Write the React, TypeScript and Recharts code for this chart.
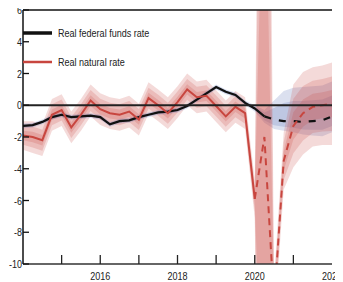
import { memo } from "react"
import {
  ComposedChart,
  Line,
  Area,
  XAxis,
  YAxis,
  ReferenceLine,
  Legend,
} from "recharts"

const FONT = "'Liberation Sans', Arial, sans-serif"
const NARROW = 0.82

const quarters = [
  "2014Q1", "2014Q2", "2014Q3", "2014Q4",
  "2015Q1", "2015Q2", "2015Q3", "2015Q4",
  "2016Q1", "2016Q2", "2016Q3", "2016Q4",
  "2017Q1", "2017Q2", "2017Q3", "2017Q4",
  "2018Q1", "2018Q2", "2018Q3", "2018Q4",
  "2019Q1", "2019Q2", "2019Q3", "2019Q4",
  "2020Q1", "2020Q2", "2020Q3", "2020Q4",
  "2021Q1", "2021Q2", "2021Q3", "2021Q4",
  "2022Q1",
]

// real federal funds rate: history to 2020Q2, then projection
const fedFundsActual = [
  -1.3, -1.25, -1.05, -0.75, -0.6, -0.75, -0.7, -0.65, -0.75, -1.2, -1.0, -0.95,
  -0.75, -0.6, -0.45, -0.4, -0.3, -0.05, 0.35, 0.75, 1.15, 0.85, 0.65, 0.15,
  -0.2, -0.7,
]
const fedFundsForecast = [-0.7, -0.9, -1.0, -1.0, -1.05, -1.0, -0.95, -0.7]
// uncertainty below / above the fed funds path
const fedFundsBandLow = [
  0.15, 0.15, 0.15, 0.15, 0.15, 0.15, 0.15, 0.15, 0.15, 0.15, 0.15, 0.15,
  0.15, 0.15, 0.15, 0.15, 0.15, 0.15, 0.15, 0.15, 0.15, 0.15, 0.15, 0.15,
  0.2, 0.4, 0.6, 0.6, 0.7, 0.8, 0.9, 1.0, 1.0,
]
const fedFundsBandHigh = [
  0.15, 0.15, 0.15, 0.15, 0.15, 0.15, 0.15, 0.15, 0.15, 0.15, 0.15, 0.15,
  0.15, 0.15, 0.15, 0.15, 0.15, 0.15, 0.15, 0.15, 0.15, 0.15, 0.15, 0.15,
  0.2, 0.4, 1.2, 1.9, 2.1, 2.2, 2.2, 2.2, 2.2,
]

// real natural rate: history to 2020Q1, then projection
const naturalActual = [
  -1.9, -2.0, -2.2, -0.6, -0.3, -1.4, -0.6, 0.3, -0.25, -0.5, -0.6, -0.4,
  -0.9, 0.45, 0.0, -0.5, 0.2, 1.0, 0.5, 0.6, -0.05, -0.7, -0.1, -0.5,
  -5.9,
]
const naturalForecast = [-5.9, -2.0, -12.5, -3.5, -1.3, -0.5, -0.1, 0.0, 0.1]
const naturalBandActual = [
  0.9, 1.0, 1.0, 1.0, 1.0, 1.0, 1.0, 1.0, 1.0, 1.0, 1.0, 1.0,
  1.0, 1.0, 1.0, 1.0, 1.0, 1.0, 1.0, 1.0, 1.0, 1.0, 1.0, 1.0,
  1.2,
]
const naturalBandForecast = [1.2, 60, 1.6, 1.8, 2.6, 2.6, 2.5, 2.5, 2.6]

const yTicks = [-10, -8, -6, -4, -2, 0, 2, 4, 6]
const yearTicks = [2014, 2015, 2016, 2017, 2018, 2019, 2020, 2021, 2022]
const yearLabels = ["2016", "2018", "2020", "2022"]

const RED = "#c8463f"
const BLUE = "#4d64ad"

const band = (v: number, w: number, f: number) => [v - w * f, v + w * f]

const ffStart = fedFundsActual.length - 1
const natStart = naturalActual.length - 1

const data = quarters.map((q, i) => {
  const row: any = { t: Number(q.slice(0, 4)) + (Number(q.slice(5)) - 1) / 4 }
  const ffv = i <= ffStart ? fedFundsActual[i] : fedFundsForecast[i - ffStart]
  if (i <= ffStart) row.ff = fedFundsActual[i]
  if (i >= ffStart) row.ffProj = fedFundsForecast[i - ffStart]
  row.ffB1 = [ffv - fedFundsBandLow[i], ffv + fedFundsBandHigh[i]]
  row.ffB2 = [ffv - fedFundsBandLow[i] * 0.6, ffv + fedFundsBandHigh[i] * 0.6]
  if (i <= natStart) {
    row.nat = naturalActual[i]
    row.natH1 = band(naturalActual[i], naturalBandActual[i], 1)
    row.natH2 = band(naturalActual[i], naturalBandActual[i], 0.66)
    row.natH3 = band(naturalActual[i], naturalBandActual[i], 0.33)
  }
  if (i >= natStart) {
    const v = naturalForecast[i - natStart]
    const w = naturalBandForecast[i - natStart]
    row.natProj = v
    row.natP1 = band(v, w, 1)
    row.natP2 = band(v, w, 0.66)
    row.natP3 = band(v, w, 0.33)
  }
  return row
})

// narrow text: Liberation Sans squeezed horizontally
function NarrowText({ x, y, anchor, children }: any) {
  return (
    <text
      transform={`translate(${x},${y}) scale(${NARROW},1)`}
      textAnchor={anchor}
      fontSize={11}
      fill="#222"
      fontFamily={FONT}
    >
      {children}
    </text>
  )
}

function YearTick({ x, y, payload }: any) {
  const v = payload.value
  const label = yearLabels.includes(String(v))
  return (
    <g>
      {v > 2014 && v < 2022 && (
        <line x1={x} x2={x} y1={y} y2={y - 9} stroke="#222" strokeWidth={1.3} />
      )}
      {label && (
        <NarrowText x={x} y={y + 16} anchor="middle">
          {v}
        </NarrowText>
      )}
    </g>
  )
}

function LeftTick({ x, y, payload }: any) {
  return (
    <g>
      <line x1={x} x2={x + 6} y1={y} y2={y} stroke="#111" strokeWidth={1.3} />
      <NarrowText x={x - 1} y={y + 4} anchor="end">
        {payload.value}
      </NarrowText>
    </g>
  )
}

function RightTick({ x, y }: any) {
  return <line x1={x - 7} x2={x} y1={y} y2={y} stroke="#222" strokeWidth={1.3} />
}

function LegendBox() {
  const rows = [
    { name: "Real federal funds rate", color: "#111", w: 3.5 },
    { name: "Real natural rate", color: RED, w: 2.5 },
  ]
  return (
    <div style={{ fontFamily: FONT, fontSize: 11, color: "#222" }}>
      {rows.map((r, i) => (
        <div key={r.name} style={{ display: "flex", alignItems: "center", height: 14, marginTop: i ? 15 : 0 }}>
          <svg width={29} height={6}>
            <line x1={0} x2={29} y1={3} y2={3} stroke={r.color} strokeWidth={r.w} />
          </svg>
          <span
            style={{
              marginLeft: 6,
              display: "inline-block",
              whiteSpace: "nowrap",
              transform: `scaleX(${NARROW})`,
              transformOrigin: "left center",
            }}
          >
            {r.name}
          </span>
        </div>
      ))}
    </div>
  )
}

function RateChart() {
  return (
    <div style={{ margin: "-8px 0 0 -8px", width: 343, height: 282, overflow: "visible" }}>
      <ComposedChart
        width={343}
        height={282}
        data={data}
        margin={{ top: 10, right: 11, left: 0, bottom: 0 }}
        style={{ overflow: "visible" }}
      >
        <XAxis
          dataKey="t"
          type="number"
          domain={[2014, 2022]}
          ticks={yearTicks}
          interval={0}
          allowDataOverflow
          height={18}
          tickSize={0}
          tickMargin={0}
          tick={<YearTick />}
          axisLine={{ stroke: "#333", strokeWidth: 1.5 }}
        />
        <YAxis
          yAxisId="l"
          domain={[-10, 6]}
          ticks={yTicks}
          interval={0}
          allowDataOverflow
          width={23}
          tickSize={0}
          tickMargin={0}
          tick={<LeftTick />}
          axisLine={{ stroke: "#111", strokeWidth: 1.5 }}
        />
        <YAxis
          yAxisId="r"
          orientation="right"
          domain={[-10, 6]}
          ticks={yTicks.slice(1, -1)}
          interval={0}
          allowDataOverflow
          width={0}
          tickSize={0}
          tickMargin={0}
          tick={<RightTick />}
          axisLine={{ stroke: "#888", strokeWidth: 1.5 }}
        />
        <Legend
          layout="vertical"
          align="center"
          verticalAlign="middle"
          wrapperStyle={{ left: 23, top: 26, width: 160 }}
          content={() => <LegendBox />}
        />

        <Area yAxisId="l" dataKey="natH1" stroke="none" fill={RED} fillOpacity={0.2} isAnimationActive={false} />
        <Area yAxisId="l" dataKey="natH2" stroke="none" fill={RED} fillOpacity={0.2} isAnimationActive={false} />
        <Area yAxisId="l" dataKey="natH3" stroke="none" fill={RED} fillOpacity={0.2} isAnimationActive={false} />

        <Area yAxisId="l" dataKey="ffB1" stroke="none" fill={BLUE} fillOpacity={0.2} isAnimationActive={false} />
        <Area yAxisId="l" dataKey="ffB2" stroke="none" fill={BLUE} fillOpacity={0.2} isAnimationActive={false} />

        <Line yAxisId="l" dataKey="ff" stroke="#111" strokeWidth={2.2} dot={false} isAnimationActive={false} />
        <Line yAxisId="l" dataKey="ffProj" stroke="#111" strokeWidth={2.2} strokeDasharray="7 8" dot={false} isAnimationActive={false} />

        <Area yAxisId="l" dataKey="natP1" stroke="none" fill={RED} fillOpacity={0.2} isAnimationActive={false} />
        <Area yAxisId="l" dataKey="natP2" stroke="none" fill={RED} fillOpacity={0.2} isAnimationActive={false} />
        <Area yAxisId="l" dataKey="natP3" stroke="none" fill={RED} fillOpacity={0.2} isAnimationActive={false} />

        <Line yAxisId="l" dataKey="nat" stroke={RED} strokeWidth={2} dot={false} isAnimationActive={false} />
        <Line yAxisId="l" dataKey="natProj" stroke={RED} strokeWidth={2} strokeDasharray="7 5" dot={false} isAnimationActive={false} />

        <ReferenceLine yAxisId="l" y={0} stroke="#222" strokeWidth={1.8} />
        <ReferenceLine yAxisId="l" y={6} stroke="#111" strokeWidth={1.5} />
      </ComposedChart>
    </div>
  )
}

export default memo(RateChart)
